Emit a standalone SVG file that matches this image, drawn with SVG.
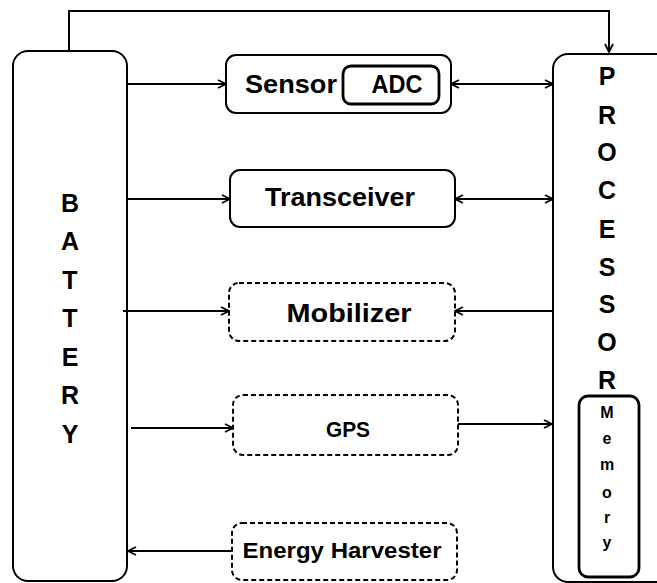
<svg xmlns="http://www.w3.org/2000/svg" width="657" height="583" viewBox="0 0 657 583">
<style>
.box{fill:#fff;stroke:#000;stroke-width:2}
.dash{fill:#fff;stroke:#000;stroke-width:2;stroke-dasharray:5,3}
.ln{fill:none;stroke:#000;stroke-width:2}
.t{font-family:"Liberation Sans",Arial,sans-serif;font-weight:bold;fill:#000;text-anchor:middle}
.big{font-size:25px}
.lab{font-size:26px}
.sm{font-size:22px}
.mem{font-size:16px}
</style>
<defs>
<marker id="ah" viewBox="0 0 10 10" refX="9" refY="5" markerWidth="10" markerHeight="10" markerUnits="userSpaceOnUse" orient="auto-start-reverse">
<path d="M1,1 L9,5 L1,9" fill="none" stroke="#000" stroke-width="1.8"/>
</marker>
</defs>
<g id="battery">
<rect class="box" x="13" y="51" width="114" height="530" rx="15"/>
<text class="t big" x="70" y="212">B</text>
<text class="t big" x="70" y="250">A</text>
<text class="t big" x="70" y="289">T</text>
<text class="t big" x="70" y="327">T</text>
<text class="t big" x="70" y="366">E</text>
<text class="t big" x="70" y="404">R</text>
<text class="t big" x="70" y="443">Y</text>
</g>
<g id="processor">
<rect class="box" x="553" y="54" width="130" height="528" rx="15"/>
<text class="t big" x="607" y="85">P</text>
<text class="t big" x="607" y="124">R</text>
<text class="t big" x="607" y="161">O</text>
<text class="t big" x="607" y="199">C</text>
<text class="t big" x="607" y="238">E</text>
<text class="t big" x="607" y="276">S</text>
<text class="t big" x="607" y="313">S</text>
<text class="t big" x="607" y="351">O</text>
<text class="t big" x="607" y="389">R</text>
</g>
<g id="memory">
<rect class="box" x="579" y="396" width="60" height="181" rx="9" style="stroke-width:2.8"/>
<text class="t mem" x="607" y="418">M</text>
<text class="t mem" x="607" y="444">e</text>
<text class="t mem" x="607" y="470">m</text>
<text class="t mem" x="607" y="498">o</text>
<text class="t mem" x="607" y="523">r</text>
<text class="t mem" x="607" y="548">y</text>
</g>
<g id="sensor">
<rect class="box" x="226" y="55" width="225" height="58" rx="10"/>
<text class="t lab" x="291" y="93" textLength="92" lengthAdjust="spacingAndGlyphs">Sensor</text>
</g>
<g id="adc">
<rect class="box" x="343" y="66" width="96" height="38" rx="8" style="stroke-width:2.8"/>
<text class="t lab" x="397" y="93" textLength="51" lengthAdjust="spacingAndGlyphs">ADC</text>
</g>
<g id="transceiver">
<rect class="box" x="230" y="170" width="225" height="57" rx="10"/>
<text class="t lab" x="340" y="206" textLength="150" lengthAdjust="spacingAndGlyphs">Transceiver</text>
</g>
<g id="mobilizer">
<rect class="dash" x="229" y="283" width="226" height="58" rx="10"/>
<text class="t lab" x="349" y="322" textLength="125" lengthAdjust="spacingAndGlyphs">Mobilizer</text>
</g>
<g id="gps">
<rect class="dash" x="233" y="395" width="225" height="60" rx="10"/>
<text class="t sm" x="348" y="437" textLength="44" lengthAdjust="spacingAndGlyphs">GPS</text>
</g>
<g id="harvester">
<rect class="dash" x="232" y="523" width="225" height="57" rx="10"/>
<text class="t sm" x="342" y="558" textLength="199" lengthAdjust="spacingAndGlyphs">Energy Harvester</text>
</g>
<g id="connectors">
<polyline class="ln" points="69,51 69,11 609,11 609,52" marker-end="url(#ah)"/>
<line class="ln" x1="127" y1="84" x2="226" y2="84" marker-end="url(#ah)"/>
<line class="ln" x1="451" y1="84" x2="553" y2="84" marker-start="url(#ah)" marker-end="url(#ah)"/>
<line class="ln" x1="127" y1="199" x2="230" y2="199" marker-end="url(#ah)"/>
<line class="ln" x1="455" y1="199" x2="553" y2="199" marker-start="url(#ah)" marker-end="url(#ah)"/>
<line class="ln" x1="123" y1="311" x2="229" y2="311" marker-end="url(#ah)"/>
<line class="ln" x1="553" y1="311" x2="455" y2="311" marker-end="url(#ah)"/>
<line class="ln" x1="131" y1="428" x2="233" y2="428" marker-end="url(#ah)"/>
<line class="ln" x1="458" y1="424" x2="552" y2="424" marker-end="url(#ah)"/>
<line class="ln" x1="232" y1="551" x2="128" y2="551" marker-end="url(#ah)"/>
</g>
</svg>
